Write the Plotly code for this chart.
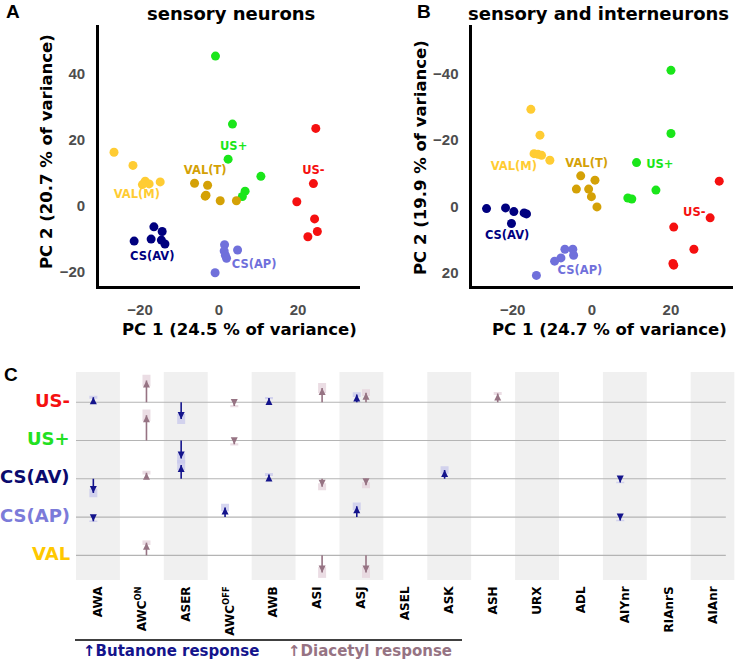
import plotly.graph_objects as go

W, H = 735, 659

# ---------------- Panel A data (sensory neurons) ----------------
groups = ["US+", "US-", "VAL(M)", "VAL(T)", "CS(AV)", "CS(AP)"]
group_colors = {"US+": "#1AE61A", "US-": "#F51010", "VAL(M)": "#FFCC33",
                "VAL(T)": "#D4A106", "CS(AV)": "#00007F", "CS(AP)": "#7070DB"}

a_x = {
    "US+": [-0.9, 3.4, 2.3, 10.6, 6.6, 5.9],
    "US-": [24.5, 23.9, 19.7, 24.2, 24.9, 22.5],
    "VAL(M)": [-26.6, -21.8, -18.7, -17.7, -19.4, -14.9],
    "VAL(T)": [-6.2, -2.9, -3.5, -3.3, 0.3, 4.4],
    "CS(AV)": [-21.5, -16.5, -14.4, -17.2, -14.6, -13.7],
    "CS(AP)": [1.4, 1.3, 4.7, 1.9, -1.0, 1.6],
}
a_y = {
    "US+": [45.4, 24.8, 14.2, 9.0, 4.5, 2.9],
    "US-": [23.5, 6.8, 1.3, -3.9, -7.7, -9.3],
    "VAL(M)": [16.3, 12.3, 7.5, 6.7, 6.5, 7.3],
    "VAL(T)": [6.9, 6.3, 3.0, 3.3, 1.6, 1.6],
    "CS(AV)": [-10.6, -6.3, -7.7, -10.0, -10.3, -11.5],
    "CS(AP)": [-11.7, -13.6, -13.3, -15.8, -20.2, -14.9],
}
a_lab = {"US+": (3.7, 17.9), "US-": (23.9, 10.6), "VAL(T)": (-3.5, 10.5),
         "VAL(M)": (-20.8, 3.2), "CS(AV)": (-16.9, -15.5), "CS(AP)": (8.9, -18.0)}

# ---------------- Panel B data (sensory and interneurons) ----------------
b_x = {
    "US+": [20.0, 20.0, 11.3, 16.2, 9.1, 10.1],
    "US-": [32.2, 29.9, 20.7, 25.8, 20.5, 20.7],
    "VAL(M)": [-15.4, -13.1, -14.6, -13.6, -12.7, -10.6],
    "VAL(T)": [-2.8, 0.8, -3.9, -0.8, -0.1, 1.3],
    "CS(AV)": [-26.6, -21.8, -19.7, -17.1, -16.5, -20.3],
    "CS(AP)": [-6.8, -4.8, -4.6, -7.8, -9.4, -14.0],
}
b_y = {
    "US+": [-41.1, -22.0, -13.2, -4.9, -2.5, -2.2],
    "US-": [-7.6, 3.5, 6.3, 13.0, 17.3, 17.8],
    "VAL(M)": [-29.3, -21.5, -15.9, -15.7, -15.4, -13.9],
    "VAL(T)": [-9.2, -7.9, -5.2, -5.2, -2.9, 0.2],
    "CS(AV)": [0.7, 0.5, 1.6, 2.0, 2.3, 5.2],
    "CS(AP)": [13.0, 13.0, 14.8, 15.6, 16.6, 20.9],
}
b_lab = {"US+": (17.2, -12.4), "US-": (25.9, 2.2), "VAL(T)": (-1.3, -12.6),
         "VAL(M)": (-19.7, -11.9), "CS(AV)": (-21.4, 8.9), "CS(AP)": (-3.0, 19.5)}

pc_ticks = [-20, 0, 20]
pc2_ticks_b = [-40, -20, 0, 20]
pc2_ticks_a = [-20, 0, 20, 40]

# ---------------- Panel C data ----------------
neurons = ["AWA", "AWC<sup>ON</sup>", "ASER", "AWC<sup>OFF</sup>", "AWB", "ASI", "ASJ",
           "ASEL", "ASK", "ASH", "URX", "ADL", "AIYnr", "RIAnrS", "AIAnr"]
conditions = ["US-", "US+", "CS(AV)", "CS(AP)", "VAL"]
cond_colors = ["#F51010", "#22E022", "#0A0A6E", "#7B7BD9", "#FFC800"]
N = None
butanone = {
    "US-":    [0.13, N, -0.44, N, 0.11, N, 0.20, N, N, N, N, N, N, N, N],
    "US+":    [N, N, -0.47, N, N, N, N, N, N, N, N, N, N, N, N],
    "CS(AV)": [-0.37, N, 0.36, N, 0.11, N, N, N, 0.23, N, N, N, -0.10, N, N],
    "CS(AP)": [-0.11, N, N, 0.25, N, N, 0.28, N, N, N, N, N, -0.09, N, N],
    "VAL":    [N] * 15,
}
butanone_sem = {
    "US-":    [0.04, N, 0.13, N, 0.03, N, 0.06, N, N, N, N, N, N, N, N],
    "US+":    [N, N, 0.13, N, N, N, N, N, N, N, N, N, N, N, N],
    "CS(AV)": [0.11, N, 0.13, N, 0.04, N, N, N, 0.10, N, N, N, 0.02, N, N],
    "CS(AP)": [0.02, N, N, 0.10, N, N, 0.10, N, N, N, N, N, 0.02, N, N],
    "VAL":    [N] * 15,
}
diacetyl = {
    "US-":    [N, 0.57, N, -0.10, N, 0.37, 0.25, N, N, 0.23, N, N, N, N, N],
    "US+":    [N, 0.66, N, -0.10, N, N, N, N, N, N, N, N, N, N, N],
    "CS(AV)": [N, 0.16, N, N, N, -0.21, -0.17, N, N, N, N, N, N, N, N],
    "CS(AP)": [N] * 15,
    "VAL":    [N, 0.33, N, N, N, -0.45, -0.45, N, N, N, N, N, N, N, N],
}
diacetyl_sem = {
    "US-":    [N, 0.15, N, 0.03, N, 0.13, 0.09, N, N, 0.04, N, N, N, N, N],
    "US+":    [N, 0.15, N, 0.03, N, N, N, N, N, N, N, N, N, N, N],
    "CS(AV)": [N, 0.05, N, N, N, 0.09, 0.08, N, N, N, N, N, N, N, N],
    "CS(AP)": [N] * 15,
    "VAL":    [N, 0.06, N, N, N, 0.14, 0.14, N, N, N, N, N, N, N, N],
}
BUT_COL, DIA_COL = "#14148C", "#967383"
BUT_HALO, DIA_HALO = "rgba(200,200,236,0.75)", "rgba(230,213,221,0.8)"

fig = go.Figure()

# ---------------- scatter panels ----------------
BOLD = "DejaVu Sans"
for (xs, ys, labs, xa, ya) in [(a_x, a_y, a_lab, "x", "y"), (b_x, b_y, b_lab, "x2", "y2")]:
    for g in groups:
        fig.add_trace(go.Scatter(x=xs[g], y=ys[g], mode="markers", xaxis=xa, yaxis=ya,
                                 marker=dict(size=9, color=group_colors[g]), showlegend=False))
        fig.add_trace(go.Scatter(x=[labs[g][0]], y=[labs[g][1]], mode="text", text=[g],
                                 xaxis=xa, yaxis=ya, showlegend=False,
                                 textfont=dict(family=BOLD, size=11.5, color=group_colors[g], weight="bold")))

# ---------------- panel C ----------------
row_y = {c: len(conditions) - 1 - i for i, c in enumerate(conditions)}
OFF = 0.105
for data, sems, col, halo, off in [(butanone, butanone_sem, BUT_COL, BUT_HALO, -OFF),
                                   (diacetyl, diacetyl_sem, DIA_COL, DIA_HALO, OFF)]:
    hx, hy, hs, lx, ly, sym = [], [], [], [], [], []
    for c in conditions:
        for k, v in enumerate(data[c]):
            if v is None:
                continue
            tip = row_y[c] + v
            hx.append(k + off); hy.append(tip); hs.append(sems[c][k])
            lx += [k + off, k + off, None]
            ly += [row_y[c], tip, None]
            sym.append("arrow-up" if v > 0 else "arrow-down")
    # shaded error region around each tip
    fig.add_trace(go.Scatter(x=hx, y=hy, mode="markers", xaxis="x3", yaxis="y3", showlegend=False,
                             marker=dict(size=1, opacity=0),
                             error_y=dict(type="data", array=hs, color=halo, thickness=8, width=0)))
    # arrow shafts
    fig.add_trace(go.Scatter(x=lx, y=ly, mode="lines", xaxis="x3", yaxis="y3", showlegend=False,
                             line=dict(color=col, width=1.6)))
    # arrow heads
    fig.add_trace(go.Scatter(x=hx, y=hy, mode="markers", xaxis="x3", yaxis="y3", showlegend=False,
                             marker=dict(symbol=sym, size=7, color=col, line=dict(width=0))))

shapes = []
for k in range(0, len(neurons), 2):
    shapes.append(dict(type="rect", xref="x3", yref="y3 domain", x0=k - 0.5, x1=k + 0.5, y0=0, y1=1,
                       fillcolor="#F0F0F0", line=dict(width=0), layer="below"))
for c in conditions:
    shapes.append(dict(type="line", xref="x3", yref="y3", x0=-0.5, x1=14.3, y0=row_y[c], y1=row_y[c],
                       line=dict(color="#B4B4B4", width=1.2), layer="below"))
shapes.append(dict(type="line", xref="paper", yref="paper", x0=75 / W, x1=462 / W,
                   y0=1 - 640 / H, y1=1 - 640 / H, line=dict(color="black", width=1.5)))

ann = []
for i, c in enumerate(conditions):
    ann.append(dict(x=72 / W, y=row_y[c] + 0.05, xref="paper", yref="y3", text=c, showarrow=False,
                    xanchor="right", yanchor="middle",
                    font=dict(family=BOLD, size=18, color=cond_colors[i], weight="bold")))

def txt(x, y, s, size, color="black", family=BOLD, angle=0, xanchor="center"):
    ann.append(dict(x=x / W, y=1 - y / H, xref="paper", yref="paper", text=s, showarrow=False,
                    xanchor=xanchor, yanchor="middle", textangle=angle,
                    font=dict(family=family, size=size, color=color, weight="bold")))

txt(231, 14, "sensory neurons", 18)
txt(598, 14, "sensory and interneurons", 18)
txt(240, 329, "PC 1 (24.5 % of variance)", 16.5)
txt(609, 329, "PC 1 (24.7 % of variance)", 16.5)
txt(47, 152, "PC 2 (20.7 % of variance)", 16.5, angle=-90)
txt(421, 157, "PC 2 (19.9 % of variance)", 16.5, angle=-90)
txt(13, 12, "A", 19, family="Liberation Sans")
txt(424, 12, "B", 19, family="Liberation Sans")
txt(11, 374, "C", 19, family="Liberation Sans")
txt(81, 651, "↑Butanone response", 15, color="#14148C", xanchor="left")
txt(286, 651, "↑Diacetyl response", 15, color="#967383", xanchor="left")

tickfont = dict(family="Liberation Sans", size=15, color="#4D4D4D", weight="bold")
sc_axis = dict(showline=True, linecolor="black", linewidth=2.6, showgrid=False, zeroline=False,
               ticks="", tickfont=tickfont, ticklabelstandoff=8)

fig.update_layout(
    width=W, height=H, autosize=False, margin=dict(l=0, r=0, t=0, b=0),
    paper_bgcolor="white", plot_bgcolor="white", showlegend=False,
    xaxis=dict(domain=[99 / W, 360 / W], range=[-30.4, 35.7], tickvals=pc_ticks, anchor="y", **sc_axis),
    yaxis=dict(domain=[1 - 286 / H, 1 - 25 / H], range=[-24.2, 54.8], tickvals=pc2_ticks_a, anchor="x", **sc_axis),
    xaxis2=dict(domain=[472.3 / W, 732.7 / W], range=[-30.2, 35.6], tickvals=pc_ticks, anchor="y2", **sc_axis),
    yaxis2=dict(domain=[1 - 286 / H, 1 - 25 / H], range=[24.1, -54.8], tickvals=pc2_ticks_b, anchor="x2", **sc_axis),
    xaxis3=dict(domain=[76 / W, 734.6 / W], range=[-0.5, 14.5], anchor="y3", tickvals=list(range(len(neurons))),
                ticktext=neurons, tickangle=-90, showgrid=False, zeroline=False, showline=False, ticks="",
                tickfont=dict(family=BOLD, size=12, color="black", weight="bold"), ticklabelstandoff=3),
    yaxis3=dict(domain=[1 - 580 / H, 1 - 372 / H], range=[-0.645, 4.79], anchor="x3", visible=False,
                showgrid=False, zeroline=False),
    shapes=shapes, annotations=ann,
)

fig.write_html("out.html", config={"displayModeBar": False},
               post_script="document.body.style.margin='0px';")
